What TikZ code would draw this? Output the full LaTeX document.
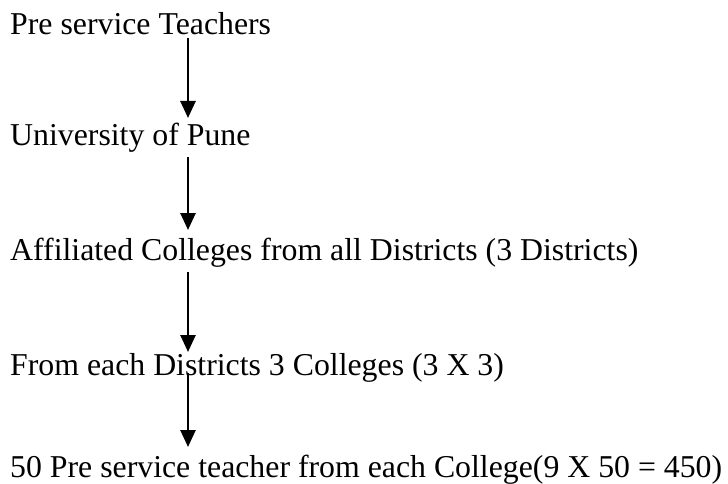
\documentclass[tikz,border=0pt]{standalone}
\usepackage{fontspec}
\setmainfont{Liberation Serif}
\usepackage[svgnames]{xcolor}
\usetikzlibrary{arrows.meta}
\tikzstyle{none}=[inner sep=0pt]
\tikzstyle{label}=[inner sep=0pt, anchor=base west, font=\fontsize{31.8}{36}\selectfont]
\tikzstyle{flow}=[-{Triangle[width=15pt,length=17pt]}, line width=2.6pt, draw=Black]

\begin{document}
\begin{tikzpicture}[x=1pt, y=-1pt]
  \useasboundingbox (0, 0) rectangle (728, 484);
  \node [style=label] (0) at (10, 35) {Pre service Teachers};
  \node [style=label] (1) at (10, 146) {University of Pune};
  \node [style=label] (2) at (10, 260) {Affiliated Colleges from all Districts (3 Districts)};
  \node [style=label] (3) at (10, 375) {From each Districts 3 Colleges (3 X 3)};
  \node [style=label] (4) at (10, 477) {50 Pre service teacher from each College(9 X 50 = 450)};
  \node [style=none] (5) at (188, 38) {};
  \node [style=none] (6) at (188, 118) {};
  \node [style=none] (7) at (188, 157) {};
  \node [style=none] (8) at (188, 230) {};
  \node [style=none] (9) at (188, 272) {};
  \node [style=none] (10) at (188, 352) {};
  \node [style=none] (11) at (188, 373) {};
  \node [style=none] (12) at (188, 447) {};
  \draw [style=flow] (5.center) to (6.center);
  \draw [style=flow] (7.center) to (8.center);
  \draw [style=flow] (9.center) to (10.center);
  \draw [style=flow] (11.center) to (12.center);
\end{tikzpicture}
\end{document}
